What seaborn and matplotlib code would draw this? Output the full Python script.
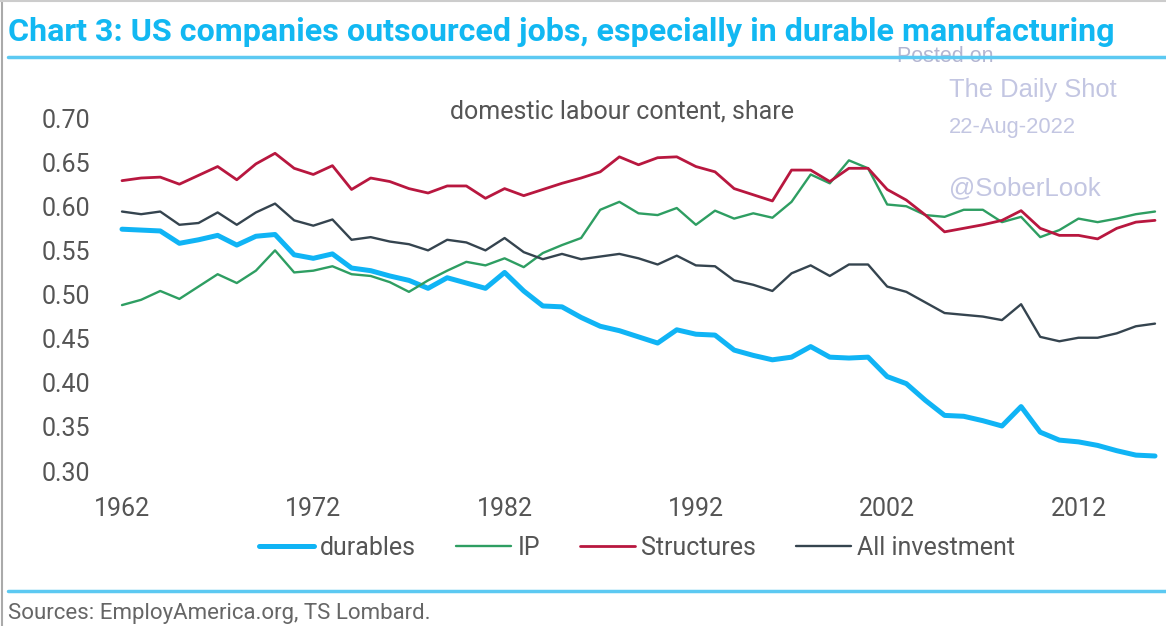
import numpy as np
import pandas as pd
import matplotlib
matplotlib.use("Agg")
import matplotlib.pyplot as plt
import seaborn as sns
from matplotlib import font_manager

# ==========================================
# DATA
# ==========================================
years = list(range(1962, 2017))

durables = [0.574, 0.573, 0.572, 0.558, 0.562, 0.567, 0.556, 0.566, 0.568, 0.545,
            0.541, 0.546, 0.530, 0.527, 0.521, 0.516, 0.507, 0.519, 0.513, 0.507,
            0.525, 0.504, 0.487, 0.486, 0.474, 0.464, 0.459, 0.452, 0.445, 0.460,
            0.455, 0.454, 0.437, 0.431, 0.426, 0.429, 0.441, 0.429, 0.428, 0.429,
            0.407, 0.399, 0.380, 0.363, 0.362, 0.357, 0.351, 0.373, 0.344, 0.335,
            0.333, 0.329, 0.323, 0.318, 0.317]

ip = [0.488, 0.494, 0.504, 0.495, 0.509, 0.523, 0.513, 0.527, 0.550, 0.525,
      0.527, 0.532, 0.523, 0.521, 0.514, 0.503, 0.516, 0.527, 0.537, 0.533,
      0.541, 0.531, 0.547, 0.556, 0.564, 0.596, 0.605, 0.592, 0.590, 0.598,
      0.579, 0.595, 0.586, 0.592, 0.587, 0.605, 0.636, 0.626, 0.652, 0.643,
      0.602, 0.600, 0.590, 0.588, 0.596, 0.596, 0.582, 0.588, 0.565, 0.573,
      0.586, 0.582, 0.586, 0.591, 0.594]

structures = [0.629, 0.632, 0.633, 0.625, 0.635, 0.645, 0.630, 0.648, 0.660, 0.643,
              0.636, 0.646, 0.619, 0.632, 0.628, 0.620, 0.615, 0.623, 0.623, 0.609,
              0.620, 0.612, 0.619, 0.626, 0.632, 0.639, 0.656, 0.647, 0.655, 0.656,
              0.645, 0.639, 0.620, 0.613, 0.606, 0.641, 0.641, 0.628, 0.643, 0.643,
              0.619, 0.607, 0.590, 0.571, 0.575, 0.579, 0.584, 0.595, 0.575, 0.567,
              0.567, 0.563, 0.575, 0.582, 0.584]

all_investment = [0.594, 0.591, 0.594, 0.579, 0.581, 0.593, 0.579, 0.593, 0.603, 0.584,
                  0.578, 0.585, 0.562, 0.565, 0.560, 0.557, 0.550, 0.562, 0.559, 0.550,
                  0.564, 0.548, 0.540, 0.546, 0.540, 0.543, 0.546, 0.541, 0.534, 0.544,
                  0.533, 0.532, 0.516, 0.511, 0.504, 0.524, 0.533, 0.521, 0.534, 0.534,
                  0.509, 0.503, 0.491, 0.479, 0.477, 0.475, 0.471, 0.489, 0.452, 0.447,
                  0.451, 0.451, 0.456, 0.464, 0.467]

series_names = ["durables", "IP", "Structures", "All investment"]
series_values = [durables, ip, structures, all_investment]
series_colors = ["#10b4f5", "#2e9e62", "#b8173f", "#35444f"]
series_widths = [3.6, 1.7, 2.0, 1.7]

xticks = [1962, 1972, 1982, 1992, 2002, 2012]
yticks = [0.30, 0.35, 0.40, 0.45, 0.50, 0.55, 0.60, 0.65, 0.70]

TITLE = "Chart 3: US companies outsourced jobs, especially in durable manufacturing"
SUBTITLE = "domestic labour content, share"
SOURCE = "Sources: EmployAmerica.org, TS Lombard."

# ==========================================
# STYLE
# ==========================================
sns.set_theme(style="white")
installed = {f.name for f in font_manager.fontManager.ttflist}
BODY = "Roboto" if "Roboto" in installed else "DejaVu Sans"
NARROW = "Liberation Sans Narrow" if "Liberation Sans Narrow" in installed else BODY
plt.rcParams["font.family"] = [BODY, "DejaVu Sans"]

df = pd.DataFrame({"year": years})
for name, vals in zip(series_names, series_values):
    df[name] = vals
long_df = df.melt(id_vars="year", var_name="series", value_name="share")

fig = plt.figure(figsize=(11.66, 6.26), dpi=100)
W, H = 1166, 626
ax = fig.add_axes([122 / W, (H - 471) / H, (1155 - 122) / W, (471 - 118) / H])

for name, color, lw in zip(series_names, series_colors, series_widths):
    sub = long_df[long_df["series"] == name]
    sns.lineplot(data=sub, x="year", y="share", color=color, linewidth=lw,
                 label=name, ax=ax, clip_on=False)

ax.set_xlim(1962, 2016)
ax.set_ylim(0.30, 0.70)
ax.set_xticks(xticks)
ax.set_xticklabels([str(t) for t in xticks])
ax.set_yticks(yticks)
ax.set_yticklabels([f"{t:.2f}" for t in yticks])
ax.tick_params(axis="both", length=0, labelsize=18, colors="#555555")
ax.tick_params(axis="x", pad=19)
ax.tick_params(axis="y", pad=23)
ax.set_xlabel("")
ax.set_ylabel("")
sns.despine(ax=ax, left=True, bottom=True)
ax.set_facecolor("none")

ax.legend(loc="center", bbox_to_anchor=(637 / W, (H - 548) / H),
          bbox_transform=fig.transFigure, ncol=4, frameon=False,
          fontsize=18, handlelength=2.2, handletextpad=0.25,
          columnspacing=1.6, labelcolor="#555555")

# texts
fig.text(8 / W, 1 - 32 / H, TITLE, color="#12b8f2", fontsize=23.2,
         fontweight="bold", family=[NARROW, "DejaVu Sans"], va="center", ha="left")
fig.text(622 / W, 1 - 111 / H, SUBTITLE, color="#555555", fontsize=18,
         ha="center", va="center")
fig.text(8 / W, 1 - 613 / H, SOURCE, color="#666666", fontsize=16,
         ha="left", va="center")

# watermark
wm = "#c3c6e2"
wm_font = ["Liberation Sans", "DejaVu Sans"]
fig.text(897 / W, 1 - 57 / H, "Posted on", color="#b4b6d2", fontsize=15.5,
         ha="left", va="center", family=wm_font, zorder=1)
fig.text(949 / W, 1 - 90 / H, "The Daily Shot", color=wm, fontsize=18.4,
         ha="left", va="center", family=wm_font)
fig.text(949 / W, 1 - 127 / H, "22-Aug-2022", color=wm, fontsize=15.8,
         ha="left", va="center", family=wm_font)
fig.text(949 / W, 1 - 188 / H, "@SoberLook", color=wm, fontsize=18.6,
         ha="left", va="center", family=wm_font)

# rules and frame
fig.add_artist(plt.Line2D([8 / W, 1], [1 - 57 / H] * 2, color="#5cc9f2",
                          linewidth=2.5, transform=fig.transFigure, zorder=5))
fig.add_artist(plt.Line2D([8 / W, 1], [1 - 591 / H] * 2, color="#5cc9f2",
                          linewidth=2.5, transform=fig.transFigure))
fig.add_artist(plt.Line2D([2 / W, 2 / W], [0, 1], color="#aaaaaa",
                          linewidth=1.5, transform=fig.transFigure))
fig.add_artist(plt.Line2D([0, 1], [1 - 1 / H] * 2, color="#cccccc",
                          linewidth=1.5, transform=fig.transFigure))

fig.savefig("out.png", dpi=100)
